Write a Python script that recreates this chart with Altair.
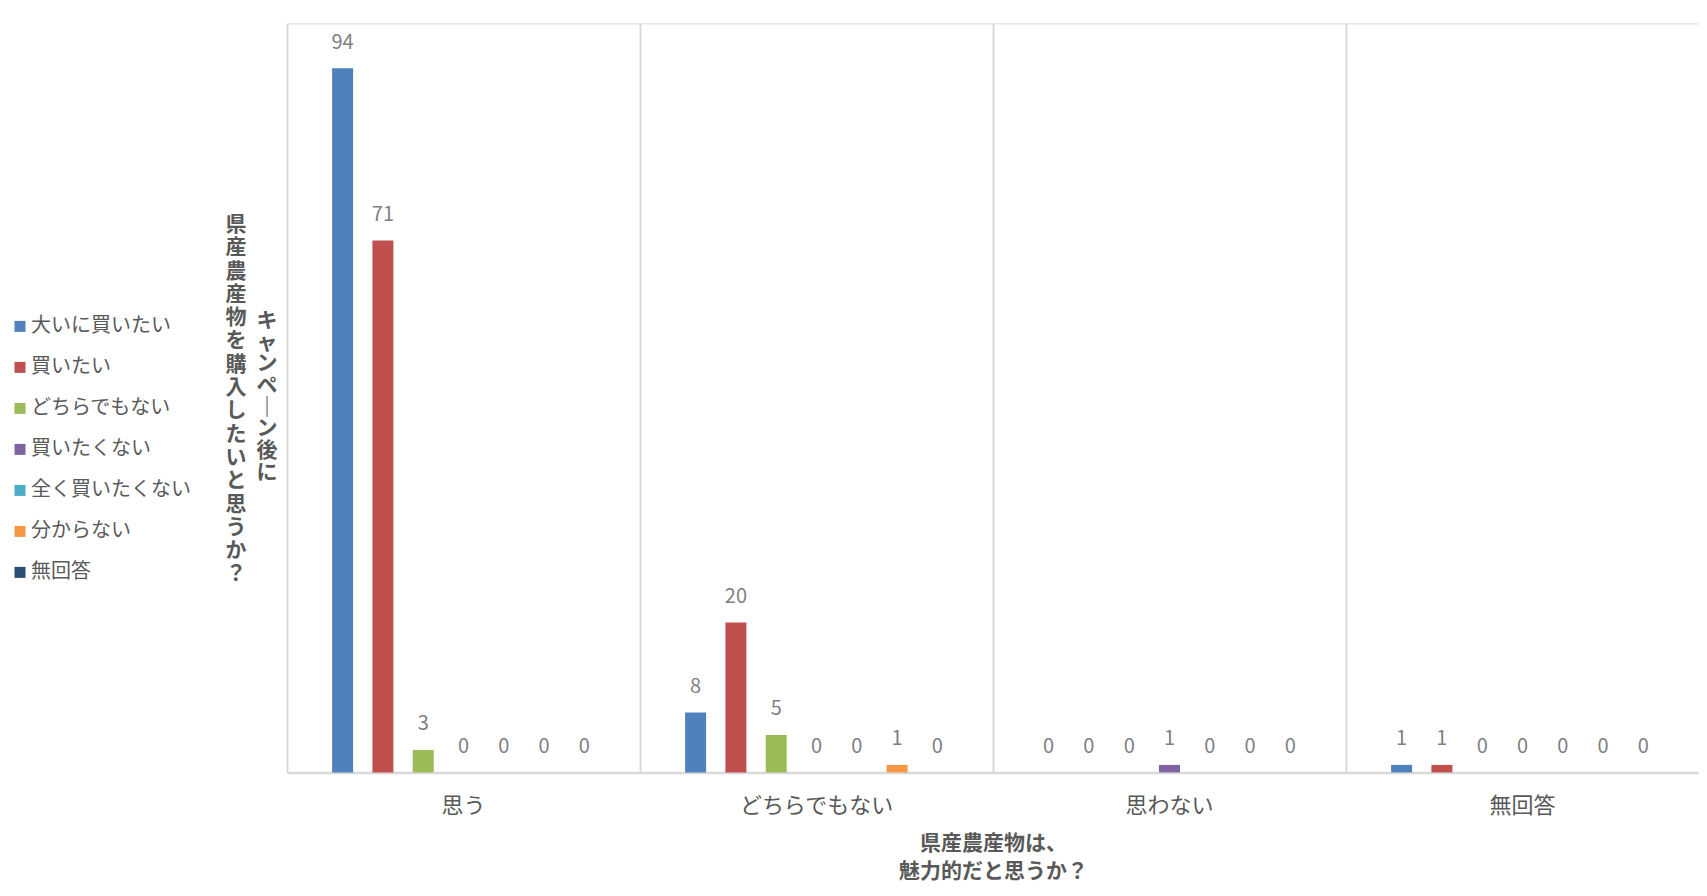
import altair as alt
import pandas as pd

categories = ["思う", "どちらでもない", "思わない", "無回答"]
series = ["大いに買いたい", "買いたい", "どちらでもない", "買いたくない", "全く買いたくない", "分からない", "無回答"]
colors = ["#4F81BD", "#C0504D", "#9BBB59", "#8064A2", "#4BACC6", "#F79646", "#2C4D75"]

# values per series, in category order
v_daiini = [94, 8, 0, 1]
v_kaitai = [71, 20, 0, 1]
v_dochira = [3, 5, 0, 0]
v_kaitakunai = [0, 0, 1, 0]
v_mattaku = [0, 0, 0, 0]
v_wakaranai = [0, 1, 0, 0]
v_mukaito = [0, 0, 0, 0]

all_vals = [v_daiini, v_kaitai, v_dochira, v_kaitakunai, v_mattaku, v_wakaranai, v_mukaito]
rows = []
for s, vals in zip(series, all_vals):
    for c, v in zip(categories, vals):
        rows.append({"cat": c, "series": s, "value": v})
df = pd.DataFrame(rows)

ytitle_col1 = "県産農産物を購入したいと思うか？"
ytitle_col2 = "キャンペ｜ン後に"
xtitle_lines = ["県産農産物は、", "魅力的だと思うか？"]

FONT = "Noto Sans CJK JP"
GRAY = "#595959"

base = alt.Chart(df).encode(
    x=alt.X(
        "cat:N",
        sort=categories,
        scale=alt.Scale(paddingInner=0, paddingOuter=0),
        axis=alt.Axis(
            title=xtitle_lines,
            titleFontSize=21,
            titleFontWeight="bold",
            titleColor=GRAY,
            titleLineHeight=28,
            titlePadding=16,
            titleFont=FONT,
            labelFont=FONT,
            labelFontSize=22,
            labelColor=GRAY,
            labelAngle=0,
            labelPadding=23.5,
            ticks=False,
            grid=True,
            gridColor="#d9d9d9",
            gridWidth=2,
            bandPosition=0,
            domainColor="#d9d9d9",
            domainWidth=2.5,
        ),
    ),
    xOffset=alt.XOffset(
        "series:N",
        sort=series,
        scale=alt.Scale(paddingInner=0.24, paddingOuter=1),
    ),
    y=alt.Y("value:Q", scale=alt.Scale(domain=[0, 100]), axis=None),
)

bars = base.mark_bar(width=21).encode(
    color=alt.Color(
        "series:N",
        sort=series,
        scale=alt.Scale(domain=series, range=colors),
        legend=alt.Legend(
            title=None,
            orient="none",
            legendX=-277,
            legendY=293,
            symbolType="square",
            symbolSize=121,
            symbolStrokeWidth=0,
            labelFontSize=20,
            labelFont=FONT,
            labelColor=GRAY,
            rowPadding=21,
            labelOffset=1,
        ),
    )
)

labels = base.mark_text(dy=-25.5, fontSize=20, color="#7f7f7f", font=FONT).encode(
    text="value:Q"
)

t1 = alt.Chart(pd.DataFrame({"t": ["\n".join(list(ytitle_col1))]})).mark_text(
    lineBreak="\n", lineHeight=23.3, fontSize=21, fontWeight="bold",
    color=GRAY, font=FONT, baseline="middle", align="center",
).encode(x=alt.value(-51), y=alt.value(201.6), text="t:N")

t2 = alt.Chart(pd.DataFrame({"t": ["\n".join(list(ytitle_col2))]})).mark_text(
    lineBreak="\n", lineHeight=21.7, fontSize=21, fontWeight="bold",
    color=GRAY, font=FONT, baseline="middle", align="center",
).encode(x=alt.value(-20), y=alt.value(297.6), text="t:N")

chart = alt.layer(bars, labels, t1, t2).properties(
    width=1412,
    height=749,
    padding={"left": 2, "top": 15.4, "right": 0, "bottom": 6},
).configure_view(stroke=None).configure(font=FONT, background="white")

chart.save("out.html", embed_options={"renderer": "svg", "actions": False})
